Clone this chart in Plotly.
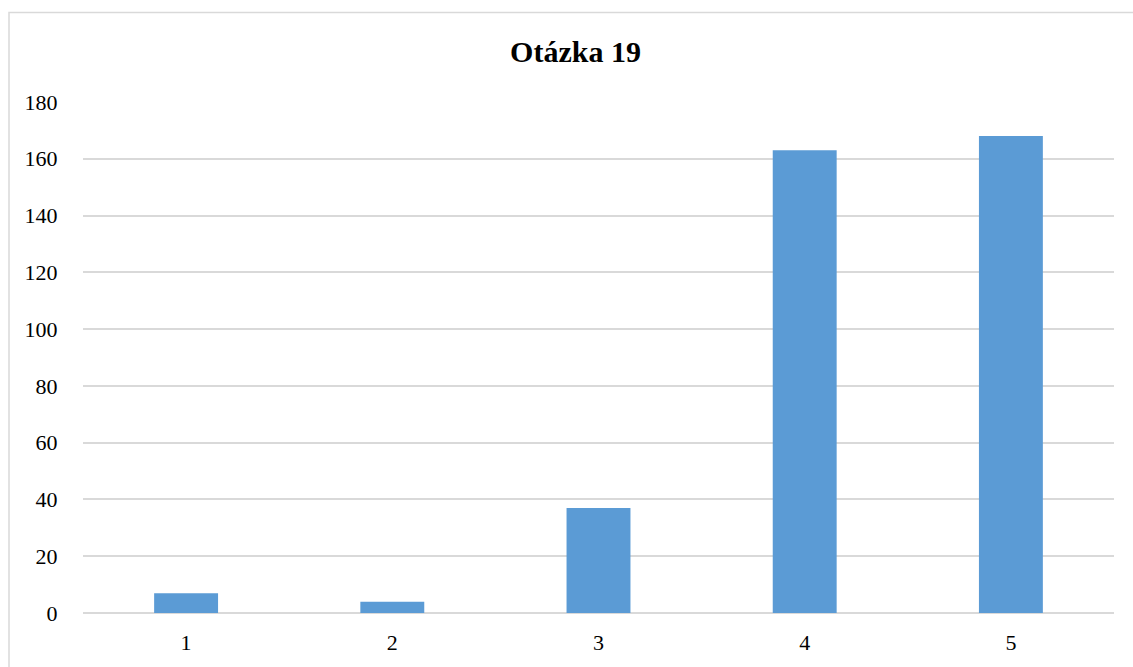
import plotly.graph_objects as go

categories = ["1", "2", "3", "4", "5"]
values = [7, 4, 37, 163, 168]
y_ticks = [0, 20, 40, 60, 80, 100, 120, 140, 160, 180]
title_text = "Otázka 19"

fig = go.Figure(go.Bar(x=categories, y=values, marker=dict(color="#5B9BD5", line=dict(width=0))))

L, R, T, B = 83, 19, 102, 51
W, H = 1133, 667
pw, ph = W - L - R, H - T - B
FONT = "Liberation Serif"

fig.update_layout(
    width=W, height=H,
    margin=dict(l=L, r=R, t=T, b=B, pad=0),
    paper_bgcolor="white", plot_bgcolor="white",
    bargap=0.69,
    showlegend=False,
    font=dict(family=FONT, size=22, color="#000000"),
    title=dict(text="<b>" + title_text + "</b>", x=575.5 / W, xref="container", xanchor="center",
               y=1 - 51 / H, yref="container", yanchor="middle",
               font=dict(size=30, family=FONT, color="#000000")),
    shapes=[dict(type="rect", xref="paper", yref="paper",
                 x0=(9 - L) / pw, x1=(W + 20 - L) / pw,
                 y0=-(B + 20) / ph, y1=1 + (T - 12) / ph,
                 line=dict(color="#d9d9d9", width=1.5), fillcolor="rgba(0,0,0,0)", layer="below")],
)
fig.update_xaxes(showgrid=False, showline=False, zeroline=False, ticks="outside", ticklen=10,
                 tickcolor="rgba(0,0,0,0)", tickfont=dict(size=22, family=FONT))
fig.update_yaxes(range=[0, 180], tickvals=y_ticks, showgrid=True, gridcolor="#d9d9d9", gridwidth=1.5,
                 zeroline=True, zerolinecolor="#d9d9d9", zerolinewidth=1.5, showline=False,
                 ticks="outside", ticklen=20, tickcolor="rgba(0,0,0,0)", tickfont=dict(size=22, family=FONT))

fig.write_html("out.html")
